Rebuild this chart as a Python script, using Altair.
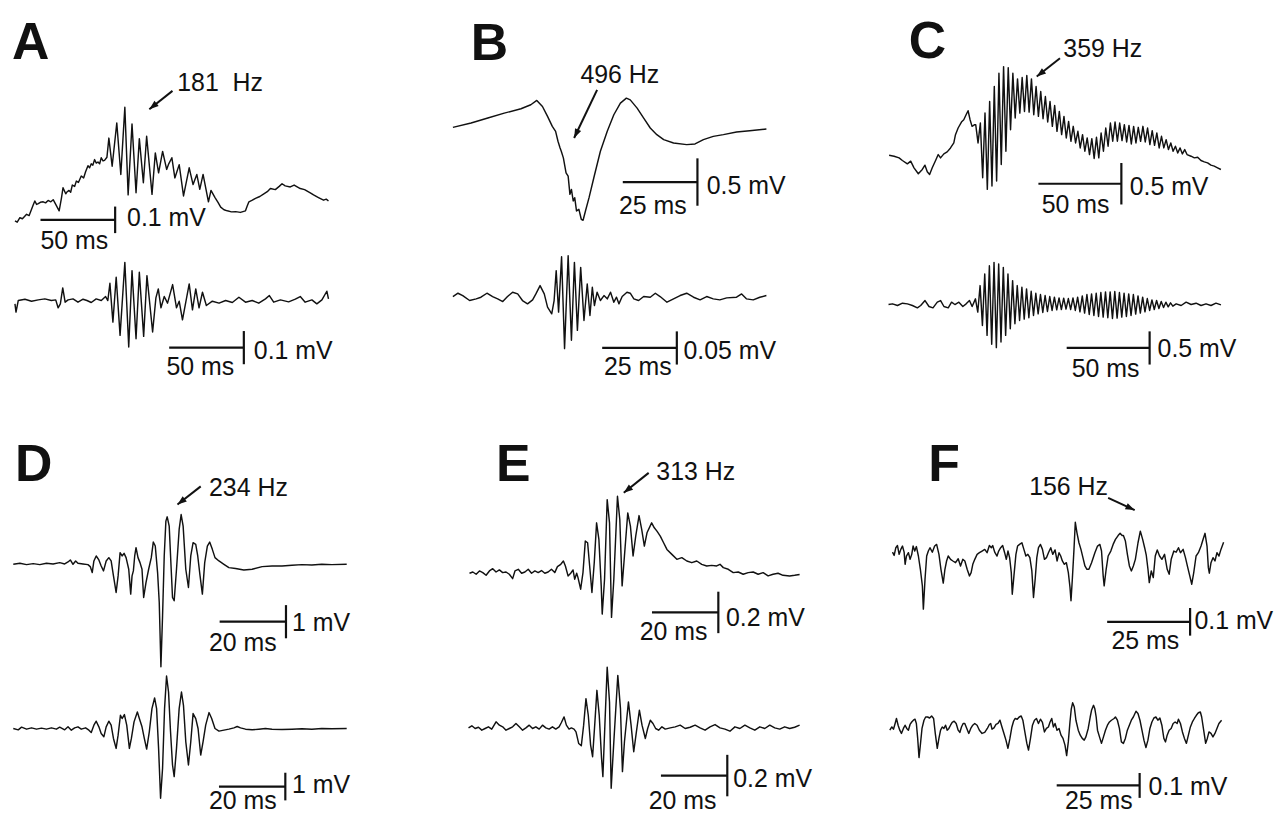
import math
import altair as alt
import pandas as pd

FONT = "Liberation Sans"
INK = "#111111"
W, H = 1272, 807          # plot area (the page puts it at 8px, 8px)
PAGE = 8
LABEL_SIZE = 25
LETTER_SIZE = 52

# ---------------- traces: (time in ms, potential in µV) ----------------
A1 = [(0,0),(1.5,-5),(3.3,12),(5,8),(7.8,25),(9.5,20),(12.2,60),(13.3,75),(14.5,62),(15.6,65),(17,70),(18.9,72),
      (20.5,68),(22.2,77),(24,72),(25.6,80),(27.3,62),(29.6,38),(31.1,85),(32.2,125),(34,102),(35,110),(36.2,115),
      (37.3,108),(38.4,135),(40,130),(41.1,150),(42.5,145),(44.4,169),(46,162),(47.3,185),(48.9,208),(50,200),
      (51.1,215),(52.2,210),(53.3,231),(54.5,218),(55.6,222),(56.7,215),(57.8,238),(59,226),(60,228),(61.6,240),
      (62.9,312),(65.1,206),(68.2,369),(70.9,175),(73.6,428),(75.8,98),(78.4,365),(81.1,106),(83.3,310),(86,144),
      (88.2,319),(91.8,100),(94,256),(96.2,181),(98.9,262),(101.6,194),(103,215),(105.1,238),(107.1,162),(110,212),
      (112.9,94),(116.7,200),(119.3,137),(121.8,175),(123.8,119),(126,175),(129.6,72),(131.3,115),(134,88),(136,70),
      (137.8,52),(140,42),(142.2,38),(145,34),(147.8,35),(151,32),(154.4,38),(155.5,55),(156.7,72),(159,78),
      (161.1,85),(164,92),(166.7,102),(169,110),(171.1,122),(174.4,118),(177,130),(178.9,140),(181,132),(184.4,128),
      (187,135),(191.1,122),(194,118),(197.8,106),(200,98),(203.3,88),(206.7,78),(208.5,82),(210,75)]

A2 = [(0,-10),(0.7,-35),(2.2,0),(6.7,4),(11.1,-2),(15.6,2),(20,5),(24.4,0),(27.3,2),(28.9,-22),(30.4,-10),(32,38),
      (33.6,-5),(35.6,2),(38.9,5),(42.2,-5),(45.6,4),(48.2,0),(51.1,-6),(54.4,5),(57.8,0),(60.7,12),(62.2,0),
      (63.6,52),(65.6,-65),(67.8,70),(70.4,-105),(73.6,115),(76.2,-140),(78.4,90),(81.1,-115),(83.3,85),(86.2,-108),
      (88.4,75),(92.2,-95),(94.4,8),(96,35),(97.8,-22),(100,12),(102.2,-8),(105.6,48),(108.2,-22),(110,-2),
      (112.2,-58),(116.7,50),(118.9,-28),(121.1,35),(123.3,-22),(125.6,25),(128.2,-15),(132.2,-2),(136.7,-8),
      (141.1,0),(145.6,-6),(150,10),(154.4,-5),(158.9,0),(163.3,-8),(167.8,5),(170.4,15),(173.3,-5),(177.8,2),
      (183.3,-4),(187.8,4),(191.1,12),(194.4,-5),(198.9,2),(202.2,-10),(205.6,2),(208.9,28),(210,5)]

B1 = [(0,0),(6.1,46),(11.7,98),(17.2,150),(22.8,196),(26.1,238),(28.1,284),(30,220),(31.7,116),(33.3,10),
      (34.4,-42),(35.2,-147),(35.9,-217),(36.3,-252),(37,-322),(37.6,-427),(37.9,-480),(38.6,-515),(39.2,-707),
      (39.7,-655),(40.3,-777),(40.8,-742),(41.4,-882),(42.2,-865),(43,-970),(43.6,-980),(44.4,-882),(45.6,-742),
      (47.2,-532),(49.4,-252),(51.7,-42),(53.9,133),(56.1,256),(58.1,308),(59.4,290),(61.7,203),(63.9,98),
      (66.1,-7),(68.3,-77),(70.6,-130),(73.9,-165),(78.3,-182),(81.1,-175),(83.9,-130),(87.2,-95),(90.6,-77),
      (95,-49),(99.4,-35),(105,-18)]

B2 = [(0,0),(1.7,5),(3.3,1.5),(5.6,-6),(7.8,-3.5),(9.4,-1),(11.4,5),(13.3,0),(15,-3.5),(16.7,-7.5),(18.3,0),
      (20,6.5),(21.7,4),(23.3,-6),(25,-11),(26.7,-5),(27.8,4),(29.2,16.5),(30.6,4),(31.7,-16),(33.1,-26),
      (33.9,-6),(34.6,39),(35.4,-23.5),(36.4,60),(37.4,-78.5),(38.6,61.5),(39.7,-66),(40.7,51.5),(41.7,-51),
      (42.8,44),(43.9,-36),(45,19),(45.9,-28.5),(46.7,14),(47.4,-13.5),(48.3,6.5),(49.4,-6),(50.6,1.5),
      (51.7,-3.5),(52.8,6.5),(53.9,-8.5),(54.8,-1),(55.6,-11),(56.7,0),(58.3,6.5),(59.4,5),(60.6,-3.5),(62.2,-6),
      (63.9,0),(66.1,-1),(67.8,5),(69.4,0),(71.7,-8.5),(73.9,-3.5),(76.1,1.5),(78.3,5),(80.6,-1),(82.8,-5),(85,0),
      (87.2,-3.5),(89.4,-5),(91.7,-2),(95,-1),(96.7,4),(98.3,-3.5),(100.6,-5),(102.8,-1),(105,1.5)]

C1 = [(0,0),(3,-12),(6,-32),(8,-64),(11,-104),(13,-72),(15,-152),(17.6,-224),(20,-172),(21.6,-120),(23,-200),
      (24.4,-232),(26,-152),(28,-64),(29.6,8),(31,-32),(33,16),(35,40),(37,88),(39,148),(40,248),(41.6,328),
      (43.6,400),(45,428),(46.4,488),(47.6,536),(48.8,428),(50,348),(51.6,368),
      (52.2,368),(53.6,148),(55.0,388),(56.4,-272),(57.8,508),(59.2,-412),(60.6,648),(62.0,-372),(63.4,828),
      (64.8,-312),(66.2,988),(67.6,-112),(69.0,1068),(70.4,48),(71.8,1056),(73.2,308),(74.6,988),(76.0,448),
      (77.4,920),(78.8,508),(80.2,936),(81.6,528),(83.0,960),(84.4,520),(85.8,920),(87.2,488),(88.6,828),(90.0,468),
      (91.4,768),(92.8,440),(94.2,708),(95.6,400),(97.0,648),(98.4,348),(99.8,600),(101.2,288),(102.6,528),
      (104.0,248),(105.4,468),(106.8,208),(108.2,408),(109.6,168),(111.0,348),(112.4,148),(113.8,288),(115.2,88),
      (116.6,248),(118.0,48),(119.4,208),(120.8,8),(122.2,200),(123.6,-40),(125.0,216),(126.4,-32),(127.8,268),
      (129.2,48),(130.6,328),(132.0,108),(133.4,388),(134.8,168),(136.2,400),(137.6,168),(139.0,388),(140.4,176),
      (141.8,368),(143.2,160),(144.6,360),(146.0,136),(147.4,348),(148.8,148),(150.2,336),(151.6,168),(153.0,348),
      (154.4,160),(155.8,328),(157.2,128),(158.6,296),(160.0,120),(161.4,268),(162.8,88),(164.2,228),(165.6,88),
      (167.0,188),(168.4,68),(169.8,148),(171.2,48),(172.6,108),(174.0,28),(175.4,88),(176.8,16),(178.2,68),
      (179.6,8),(182,-12),(184,-32),(186,-24),(188,-64),(190,-80),(192,-92),(194,-120),(196,-132),(198,-152),
      (200,-172)]

C2 = [(0,0),(2.4,10),(5.4,-15),(8.4,20),(11.4,10),(14.4,-15),(17.4,-50),(19.4,-15),(22,60),(24.4,-30),(26.8,-50),
      (29.4,35),(31.4,60),(33.4,-30),(36,-50),(38,35),(40,0),(42.4,35),(44.8,-30),(46.8,10),(48.8,60),(50.4,-30),
      (52.4,85),(53.8,-115),(55.2,285),(56.6,-315),(58.0,460),(59.4,-465),(60.8,585),(62.2,-600),(63.6,635),
      (65.0,-650),(66.4,610),(67.8,-565),(69.2,560),(70.6,-465),(72.0,460),(73.4,-365),(74.8,360),(76.2,-290),
      (77.6,285),(79.0,-240),(80.4,260),(81.8,-220),(83.2,235),(84.6,-200),(86.0,200),(87.4,-165),(88.8,170),
      (90.2,-140),(91.6,150),(93.0,-120),(94.4,135),(95.8,-105),(97.2,120),(98.6,-90),(100.0,110),(101.4,-80),
      (102.8,100),(104.2,-75),(105.6,95),(107.0,-70),(108.4,90),(109.8,-75),(111.2,100),(112.6,-90),(114.0,110),
      (115.4,-110),(116.8,130),(118.2,-130),(119.6,150),(121.0,-150),(122.4,160),(123.8,-165),(125.2,170),
      (126.6,-180),(128.0,180),(129.4,-190),(130.8,190),(132.2,-200),(133.6,190),(135.0,-210),(136.4,195),
      (137.8,-205),(139.2,180),(140.6,-190),(142.0,170),(143.4,-180),(144.8,160),(146.2,-165),(147.6,150),
      (149.0,-145),(150.4,130),(151.8,-130),(153.2,110),(154.6,-110),(156.0,90),(157.4,-90),(158.8,70),(160.2,-75),
      (161.6,60),(163.0,-60),(164.4,45),(165.8,-45),(167.2,35),(168.6,-35),(170.0,25),(171.4,-25),
      (173.4,10),(176.4,-15),(179.4,35),(182.4,0),(185.4,20),(188.4,-15),(191.4,10),(194.4,-15),(197.4,20),
      (200.4,-5)]

D1 = [(0,0),(2,30),(4,-10),(6,20),(8,-10),(10,30),(12,10),(14,50),(15.5,10),(16.5,70),(17.2,130),(18,0),
      (18.8,100),(19.5,30),(21,10),(22.5,-10),(23.2,-70),(23.8,-250),(24.3,100),(25,250),(25.8,130),(26.5,-50),
      (27.2,-200),(28,100),(28.8,200),(29.5,100),(30.2,-350),(31,-850),(31.6,-350),(32.2,350),(32.8,250),
      (33.4,330),(34,200),(34.8,-150),(35.4,-900),(35.8,-350),(36.2,-200),(36.6,250),(37,500),(37.6,200),
      (38.2,50),(38.8,-150),(39.3,-1000),(40,-550),(40.8,-150),(41.6,200),(42.2,670),(42.8,550),(43.5,-250),
      (44,-1150),(44.5,-3090),(45,-1550),(45.5,250),(46,1300),(46.4,1430),(47,1150),(47.6,-150),(48,-1000),
      (48.5,-1100),(49.2,-150),(50,1050),(50.6,1500),(51.2,1150),(52,-150),(52.8,-700),(53.5,250),(54.2,650),
      (55,600),(55.6,250),(56.3,-350),(57,-900),(57.7,50),(58.5,550),(59.2,670),(60,450),(60.8,200),(62,100),
      (63.5,0),(65,-100),(67,-130),(69.5,-170),(72,-150),(75,-70),(78,-50),(81,-50),(84,-30),(87,-10),(90,-20),
      (93,0),(96,-10),(100.5,0)]

D2 = [(0,0),(1.5,-48),(2.5,48),(4,-24),(5.5,24),(7,-24),(8.5,12),(10,-24),(11.5,24),(13,-24),(14,48),(15.5,-48),
      (16.5,60),(17.5,-60),(18.5,24),(19.5,60),(20.5,-24),(21.8,24),(22.8,-60),(23.5,-144),(24.3,120),(25,264),
      (25.8,60),(26.5,-180),(27.3,-300),(28,60),(28.8,264),(29.5,120),(30.2,-360),(31,-720),(31.6,-240),
      (32.3,480),(32.8,360),(33.5,504),(34.2,120),(35,-720),(35.6,-360),(36.4,240),(37.4,600),(38,360),(38.8,60),
      (39.5,-360),(40.2,-744),(41,-120),(41.8,720),(42.6,1104),(43.2,720),(43.8,-720),(44.4,-2520),(45,-1440),
      (45.6,720),(46.2,1896),(46.8,1320),(47.4,-120),(48,-1320),(48.5,-1740),(49.2,-720),(50,720),(50.7,1320),
      (51.3,840),(52,-480),(52.8,-1320),(53.5,-480),(54.2,540),(55,360),(55.7,0),(56.5,-960),(57.2,-480),
      (58,120),(59,576),(59.8,360),(60.8,0),(62,-96),(63.5,-60),(65,-24),(66.5,24),(67.5,72),(68.5,24),(70,-24),
      (72,-48),(74,-24),(76,0),(78,-24),(81,-36),(84,-24),(87,-12),(90,-24),(93,0),(96,-12),(100.5,0)]

E1 = [(0,0),(1,6),(2,-5),(3,11),(4,3),(5,-10),(6,11),(7,22),(8,6),(9,16),(10,3),(11,6),(12,-5),(13,-26),
      (13.7,11),(14.7,19),(15.7,0),(16.7,6),(17.7,19),(18.7,0),(19.7,11),(20.7,3),(21.7,13),(22.7,0),(23.7,6),
      (24.7,19),(25.7,3),(26.5,32),(27.5,43),(28.3,59),(28.9,35),(29.7,-13),(30.5,0),(31.2,16),(31.7,-29),
      (32.3,0),(32.7,-21),(33.5,-77),(34.2,3),(34.9,155),(35.6,147),(36.3,19),(36.9,-93),(37.6,51),(38.3,243),
      (39,163),(39.7,-61),(40,-197),(40.7,-29),(41.5,355),(42.2,243),(42.8,-213),(43.5,-29),(44.6,371),
      (45.3,259),(46,-61),(46.7,83),(47.7,291),(48.5,227),(49.3,83),(50.1,179),(51.1,278),(51.9,211),(52.7,131),
      (53.5,195),(54.9,243),(55.7,219),(56.5,203),(57.5,179),(58.5,147),(59.5,115),(61,91),(62.5,67),(64,75),
      (65.5,59),(67,51),(68.5,59),(70,43),(71.5,35),(73,38),(74.5,35),(75.5,43),(76.5,27),(78,19),(79.5,3),
      (81,6),(82.5,-5),(84,3),(85.5,6),(87,-5),(88.5,3),(90,-13),(91.5,-5),(93,0),(94.5,-10),(96.5,-13),
      (98,-10),(99.5,-6)]

E2 = [(0,3),(1,13),(2,0),(3,6),(4,-8),(5,0),(6,8),(7,-3),(8.3,32),(9.3,16),(10.3,8),(11.3,-8),(12.3,0),
      (13.3,8),(14.3,24),(15.3,8),(16.3,-8),(17.3,3),(18.3,16),(19.3,0),(20.3,8),(21.3,-3),(22.3,16),(23.3,3),
      (24.3,-3),(25.3,8),(26.3,-3),(27.3,8),(28,29),(28.8,56),(29.5,16),(30.3,-3),(31,3),(31.8,-3),(32.4,-16),
      (33.2,-72),(34,-83),(34.7,16),(35.4,144),(36.1,64),(36.8,-80),(37.4,-136),(38.1,32),(38.7,184),(39.4,64),
      (40.1,-144),(40.5,-232),(41.1,16),(41.8,296),(42.5,128),(43,-288),(43.8,-64),(45,256),(45.8,96),
      (46.4,-208),(47,-64),(48.2,128),(49,16),(49.8,-112),(50.6,-16),(51.5,88),(52.3,16),(53.3,-48),(54,0),
      (54.8,40),(55.6,24),(56.4,0),(57.3,-8),(58.3,8),(59.3,-3),(60.8,3),(62.3,8),(63.8,16),(65.3,0),(66.8,6),
      (68.3,16),(69.8,3),(71.3,-8),(72.8,8),(74.3,19),(75.8,3),(77.3,-3),(78.8,-13),(80.3,8),(81.8,0),(83.3,16),
      (84.8,3),(86.3,-8),(87.8,8),(89.3,0),(90.8,16),(92.3,3),(93.8,-3),(95.3,8),(96.8,0),(98.3,6),(99.8,16)]

F1 = [(0,14),(0.5,2),(1,30),(1.5,38),(2,6),(2.5,24),(3,36),(3.5,14),(3.8,-30),(4.2,0),(4.8,12),(5.3,-12),
      (5.8,6),(6.2,36),(6.7,18),(7.2,34),(7.8,0),(8.4,-48),(9,-108),(9.3,-192),(9.8,-84),(10.3,0),(10.8,18),
      (11.3,30),(12,14),(12.7,36),(13.3,42),(14,6),(14.6,-48),(15.3,-98),(15.8,-48),(16.3,-18),(16.8,0),
      (17.5,-12),(18.2,-18),(19,-24),(19.8,-10),(20.5,-36),(21.2,-12),(21.8,-18),(22.5,-48),(23.2,-72),
      (23.7,-60),(24.2,-30),(24.8,-12),(25.5,6),(26.2,12),(27,18),(27.8,24),(28.5,12),(29.2,38),(29.8,30),
      (30.2,38),(30.8,14),(31.5,0),(32,18),(32.6,30),(33.2,38),(33.8,12),(34.3,-12),(34.8,18),(35.3,-6),
      (35.8,-60),(36.1,-138),(36.6,-72),(37.2,6),(37.7,36),(38.3,42),(39,48),(39.6,24),(40.2,0),(40.8,6),
      (41.4,-6),(42,-54),(42.5,-150),(43,-84),(43.5,-6),(44,30),(44.6,42),(45.2,24),(45.8,-12),(46.4,-6),
      (47,12),(47.7,30),(48.3,6),(49,22),(49.6,-18),(50.2,12),(50.7,0),(51.2,-18),(51.8,-30),(52.4,-24),
      (53,-60),(53.5,-114),(53.8,-162),(54.2,-84),(54.7,24),(55.1,122),(55.6,84),(56.2,48),(56.8,24),(57.4,-6),
      (58,-36),(58.6,-48),(59.2,-48),(60,-24),(61,12),(61.8,36),(62.5,42),(63,18),(63.5,-72),(63.8,-108),
      (64.4,-48),(65,0),(65.8,18),(66.5,42),(67.2,60),(68,74),(68.6,82),(69.2,74),(69.6,74),(70.2,54),(70.8,6),
      (71.4,-36),(72,-54),(72.6,-36),(73.2,-12),(74,48),(74.7,90),(75.4,60),(76,30),(76.5,2),(77,-48),(77.4,-96),
      (78,-54),(78.6,-78),(79.2,0),(79.8,22),(80.5,0),(81.2,-12),(82,6),(82.8,-48),(83.4,-66),(84,-12),(84.8,18),
      (85.5,14),(86.2,30),(86.8,12),(87.6,24),(88.3,-6),(89,-42),(89.6,-72),(90.2,-102),(90.8,-60),(91.5,0),
      (92.2,12),(93,36),(93.6,60),(94.2,82),(94.8,36),(95.2,-42),(95.5,-62),(96,-24),(96.6,-6),(97.2,-18),
      (97.8,12),(98.4,0),(99,24),(99.8,50)]

F2 = [(0,0),(0.6,13),(1.1,4),(1.6,27),(2,47),(2.5,20),(3,0),(3.5,-13),(4.1,7),(4.6,20),(5.1,7),(5.6,0),(6.1,23),
      (6.6,33),(7.1,40),(7.6,44),(8,27),(8.4,-33),(8.8,-110),(9.2,-60),(9.7,7),(10.3,40),(10.8,53),(11.4,53),
      (12,49),(12.6,57),(13.2,47),(13.7,-13),(14.3,-73),(14.8,-33),(15.3,0),(15.8,13),(16.3,7),(16.8,20),
      (17.3,0),(17.8,7),(18.3,20),(18.8,31),(19.4,36),(20,27),(20.6,0),(21.1,-9),(21.6,13),(22.1,27),(22.6,27),
      (23.2,7),(23.8,-13),(24.4,7),(25,20),(25.6,27),(26.3,20),(27,0),(27.8,-13),(28.6,-9),(29.4,7),(30,23),
      (30.4,27),(30.8,4),(31.4,9),(32,23),(32.6,27),(33.2,40),(33.8,13),(34.4,-13),(35,-40),(35.6,-73),
      (36.2,-33),(36.8,13),(37.3,36),(37.8,47),(38.4,44),(39,53),(39.6,57),(40.1,40),(40.7,-7),(41.3,-53),
      (41.8,-80),(42.4,-33),(43,20),(43.6,40),(44.2,47),(44.8,27),(45.4,44),(46,31),(46.6,-7),(47.2,7),(47.8,13),
      (48.3,33),(48.8,47),(49.3,13),(49.8,27),(50.4,0),(51,7),(51.6,-20),(52.2,-33),(52.8,-60),(53.3,-102),
      (53.8,-47),(54.3,33),(54.7,86),(55.1,110),(55.6,93),(56.1,40),(56.8,0),(57.4,-20),(58,-33),(58.6,-40),
      (59.1,-27),(59.8,7),(60.4,53),(60.8,80),(61.4,100),(61.8,86),(62.2,53),(62.6,0),(63.2,-27),(63.8,-53),
      (64.4,-27),(65,0),(65.6,20),(66.2,33),(66.8,40),(67.6,47),(68,53),(68.6,40),(69.2,7),(69.8,-47),(70.4,-53),
      (71,-33),(71.6,0),(72.2,20),(72.8,40),(73.4,53),(74.2,76),(74.8,67),(75.4,40),(76,0),(76.6,-40),(77.2,-70),
      (77.8,-40),(78.4,7),(79,33),(79.6,49),(80.2,53),(80.8,40),(81.4,49),(82,20),(82.6,-33),(83.1,-47),
      (83.6,-20),(84.2,0),(84.8,7),(85.4,27),(86,33),(86.6,27),(87,44),(87.6,27),(88.2,-7),(88.8,-33),(89.4,-53),
      (90,-20),(90.6,13),(91.2,33),(91.8,47),(92.4,60),(93,70),(93.6,73),(94,53),(94.6,0),(95.2,-53),(95.7,-33),
      (96.2,-7),(96.8,-13),(97.4,-27),(98,-13),(98.6,7),(99.2,27),(100,40)]

# scale bars: (time length ms, amplitude µV, time label, amplitude label)
BARS = {
    "A1": (50, 100, "50 ms", "0.1 mV"), "A2": (50, 100, "50 ms", "0.1 mV"),
    "B1": (25, 500, "25 ms", "0.5 mV"), "B2": (25, 50, "25 ms", "0.05 mV"),
    "C1": (50, 500, "50 ms", "0.5 mV"), "C2": (50, 500, "50 ms", "0.5 mV"),
    "D1": (20, 1000, "20 ms", "1 mV"), "D2": (20, 1000, "20 ms", "1 mV"),
    "E1": (20, 200, "20 ms", "0.2 mV"), "E2": (20, 200, "20 ms", "0.2 mV"),
    "F1": (25, 100, "25 ms", "0.1 mV"), "F2": (25, 100, "25 ms", "0.1 mV"),
}
FREQ = {"A1": "181\u00a0\u00a0Hz", "B1": "496 Hz", "C1": "359 Hz", "D1": "234 Hz", "E1": "313 Hz", "F1": "156 Hz"}
LETTER = {"A1": "A", "B1": "B", "C1": "C", "D1": "D", "E1": "E", "F1": "F"}

# ---------------- layout (page pixels / data units) ----------------
# origin x, origin y (page px), px per ms, µV per px
GEO = {
    "A1": (15, 220, 1.5, 3.75), "A2": (15, 300, 1.5, 3.0),
    "B1": (455, 126, 3.0, 10.5), "B2": (455, 296, 3.0, 1.5),
    "C1": (893.3, 154, 5/3, 12), "C2": (892.7, 304, 5/3, 15),
    "D1": (13.3, 565, 10/3, 30), "D2": (13.3, 730, 10/3, 36),
    "E1": (471.7, 574, 10/3, 4.8), "E2": (470.7, 730, 10/3, 4.8),
    "F1": (896.7, 556.7, 10/3, 3.6), "F2": (894, 731.7, 10/3, 4.0),
}
# scale bar anchor: (bar start ms, bar centre µV); label anchors (left, baseline)
BAR_POS = {
    "A1": (17.1, 4, (17.1, -106), (75.1, -19)), "A2": (103.3, -142, (101.5, -225), (160, -175)),
    "B1": (56.9, -577, (55.6, -917), (85, -707)), "B2": (50, -77.5, (50.6, -118.5), (77.2, -93.5)),
    "C1": (90, -344, (92, -692), (145, -480)), "C2": (107.4, -655, (110.4, -1090), (162.2, -790)),
    "D1": (62.2, -1731, (59, -2601), (84, -2001)), "D2": (62, -2100, (59, -2916), (84, -2340)),
    "E1": (55, -189, (51.3, -320), (77.3, -253)), "E2": (58, -227, (54.3, -389), (79.8, -280)),
    "F1": (64.7, -238, (66, -336), (91, -264)), "F2": (50.3, -222, (52.8, -317), (78, -260)),
}
FREQ_POS = {  # label (left, baseline), arrow tail, arrow head
    "A1": ((108.7, 491), (105.5, 490), (90, 421)),
    "B1": ((42.7, 472), (48.3, 396), (40.6, -112)),
    "C1": ((105, 1188), (103, 1168), (89, 948)),
    "D1": ((59, 2049), (56.5, 2349), (49.5, 1800)),
    "E1": ((56.3, 451), (54, 484), (46.5, 388)),
    "F1": ((41.2, 222), (65, 210), (73, 166)),
}
LETTER_POS = {"A1": (-2, 611), "B1": (6, 711), "C1": (11.8, 1168), "D1": (0.5, 2499), "E1": (8, 443), "F1": (10.8, 270)}

TRACES = {"A1": A1, "A2": A2, "B1": B1, "B2": B2, "C1": C1, "C2": C2,
          "D1": D1, "D2": D2, "E1": E1, "E2": E2, "F1": F1, "F2": F2}

ARROW_HEAD = "M0,0L-0.42,1.15L0.42,1.15Z"


def trace_layer(key):
    x0, y0, pxms, uvpx = GEO[key]
    xs = alt.Scale(domain=[(PAGE - x0) / pxms, (PAGE + W - x0) / pxms], nice=False, zero=False)
    ys = alt.Scale(domain=[(y0 - PAGE - H) * uvpx, (y0 - PAGE) * uvpx], nice=False, zero=False)
    X = lambda f: alt.X(f, type="quantitative", scale=xs, axis=None)
    Y = lambda f: alt.Y(f, type="quantitative", scale=ys, axis=None)

    df = pd.DataFrame(TRACES[key], columns=["t", "v"])
    df["i"] = range(len(df))
    layers = [alt.Chart(df).mark_line(color=INK, strokeWidth=1.45, strokeJoin="round")
              .encode(x=X("t"), y=Y("v"), order=alt.Order("i:Q"))]

    blen, bamp, tlab, alab = BARS[key]
    bt, bv, tpos, apos = BAR_POS[key]
    bars = pd.DataFrame({
        "t": [bt, bt + blen], "t2": [bt + blen, bt + blen],
        "v": [bv, bv - bamp / 2], "v2": [bv, bv + bamp / 2]})
    layers.append(alt.Chart(bars).mark_rule(color=INK, strokeWidth=2.2)
                  .encode(x=X("t"), x2="t2", y=Y("v"), y2="v2"))

    labels = [(tpos[0], tpos[1], tlab, LABEL_SIZE, "normal"), (apos[0], apos[1], alab, LABEL_SIZE, "normal")]
    if key in FREQ:
        (lt, lv), (at, av), (ht, hv) = FREQ_POS[key]
        labels.append((lt, lv, FREQ[key], LABEL_SIZE, "normal"))
        arrow = pd.DataFrame({"t": [at], "v": [av], "t2": [ht], "v2": [hv]})
        layers.append(alt.Chart(arrow).mark_rule(color=INK, strokeWidth=2)
                      .encode(x=X("t"), x2="t2", y=Y("v"), y2="v2"))
        dx = (ht - at) * pxms
        dy = -(hv - av) / uvpx
        ang = math.degrees(math.atan2(dx, -dy)) % 360
        head = pd.DataFrame({"t": [ht], "v": [hv]})
        layers.append(alt.Chart(head).mark_point(shape=ARROW_HEAD, filled=True, color=INK, opacity=1,
                                                 size=260, angle=ang, strokeWidth=0)
                      .encode(x=X("t"), y=Y("v")))
    if key in LETTER:
        lt, lv = LETTER_POS[key]
        labels.append((lt, lv, LETTER[key], LETTER_SIZE, "bold"))

    for (lt, lv, txt, fs, fw) in labels:
        ldf = pd.DataFrame({"t": [lt], "v": [lv], "label": [txt]})
        layers.append(alt.Chart(ldf).mark_text(align="left", baseline="alphabetic", font=FONT,
                                               fontSize=fs, fontWeight=fw, color=INK)
                      .encode(x=X("t"), y=Y("v"), text="label:N"))
    return alt.layer(*layers)


chart = (alt.layer(*[trace_layer(k) for k in TRACES])
         .resolve_scale(x="independent", y="independent")
         .properties(width=W, height=H, padding=0,
                     autosize=alt.AutoSizeParams(type="none"), background="white")
         .configure_view(stroke=None))

chart.save("out.html", embed_options={"renderer": "svg", "actions": False})
